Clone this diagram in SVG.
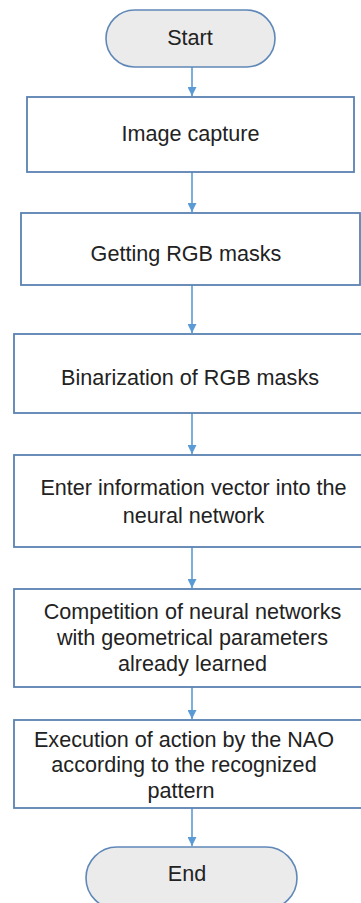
<svg xmlns="http://www.w3.org/2000/svg" width="361" height="903" viewBox="0 0 361 903">
  <style>
    .term { fill: #ebebeb; stroke: #5f88b8; stroke-width: 1.6; }
    .box { fill: #ffffff; stroke: #5a82b2; stroke-width: 1.8; }
    .lbl { font-family: "Liberation Sans", Arial, sans-serif; font-size: 21.6px; fill: #222222; text-anchor: middle; }
    .edge { stroke: #5b9bd5; stroke-width: 1.6; fill: none; marker-end: url(#arrow); }
  </style>
  <defs>
    <marker id="arrow" viewBox="0 0 10 10" refX="10" refY="5" markerWidth="9" markerHeight="9" markerUnits="userSpaceOnUse" orient="auto">
      <path d="M0,0 L10,5 L0,10 Z" fill="#5b9bd5"/>
    </marker>
  </defs>
  <rect width="361" height="903" fill="#ffffff"/>

  <g id="connectors">
    <line class="edge" x1="192" y1="67" x2="192" y2="96"/>
    <line class="edge" x1="192" y1="172" x2="192" y2="212"/>
    <line class="edge" x1="192" y1="285" x2="192" y2="333"/>
    <line class="edge" x1="192" y1="413" x2="192" y2="454"/>
    <line class="edge" x1="192" y1="547" x2="192" y2="588"/>
    <line class="edge" x1="192" y1="687" x2="192" y2="719"/>
    <line class="edge" x1="192" y1="808" x2="192" y2="846"/>
  </g>

  <g id="start">
    <rect class="term" x="106" y="10" width="169" height="57" rx="28.5"/>
    <text class="lbl" x="190" y="45">Start</text>
  </g>

  <g id="image-capture">
    <rect class="box" x="27" y="97" width="327" height="75"/>
    <text class="lbl" x="190.5" y="141">Image capture</text>
  </g>

  <g id="rgb-masks">
    <rect class="box" x="21" y="213" width="339" height="72"/>
    <text class="lbl" x="186" y="261">Getting RGB masks</text>
  </g>

  <g id="binarization">
    <rect class="box" x="14" y="334" width="352" height="79"/>
    <text class="lbl" x="190" y="385">Binarization of RGB masks</text>
  </g>

  <g id="enter-vector">
    <rect class="box" x="14" y="455" width="352" height="92"/>
    <text class="lbl" x="193.5" y="495">Enter information vector into the</text>
    <text class="lbl" x="193.5" y="523">neural network</text>
  </g>

  <g id="competition">
    <rect class="box" x="14" y="589" width="352" height="98"/>
    <text class="lbl" x="192.5" y="619">Competition of neural networks</text>
    <text class="lbl" x="192.5" y="645">with geometrical parameters</text>
    <text class="lbl" x="192.5" y="671">already learned</text>
  </g>

  <g id="execution">
    <rect class="box" x="14" y="720" width="352" height="88"/>
    <text class="lbl" x="184" y="747">Execution of action by the NAO</text>
    <text class="lbl" x="184" y="772">according to the recognized</text>
    <text class="lbl" x="181" y="798">pattern</text>
  </g>

  <g id="end">
    <rect class="term" x="86" y="847" width="211" height="62" rx="31"/>
    <text class="lbl" x="187" y="881">End</text>
  </g>
</svg>
